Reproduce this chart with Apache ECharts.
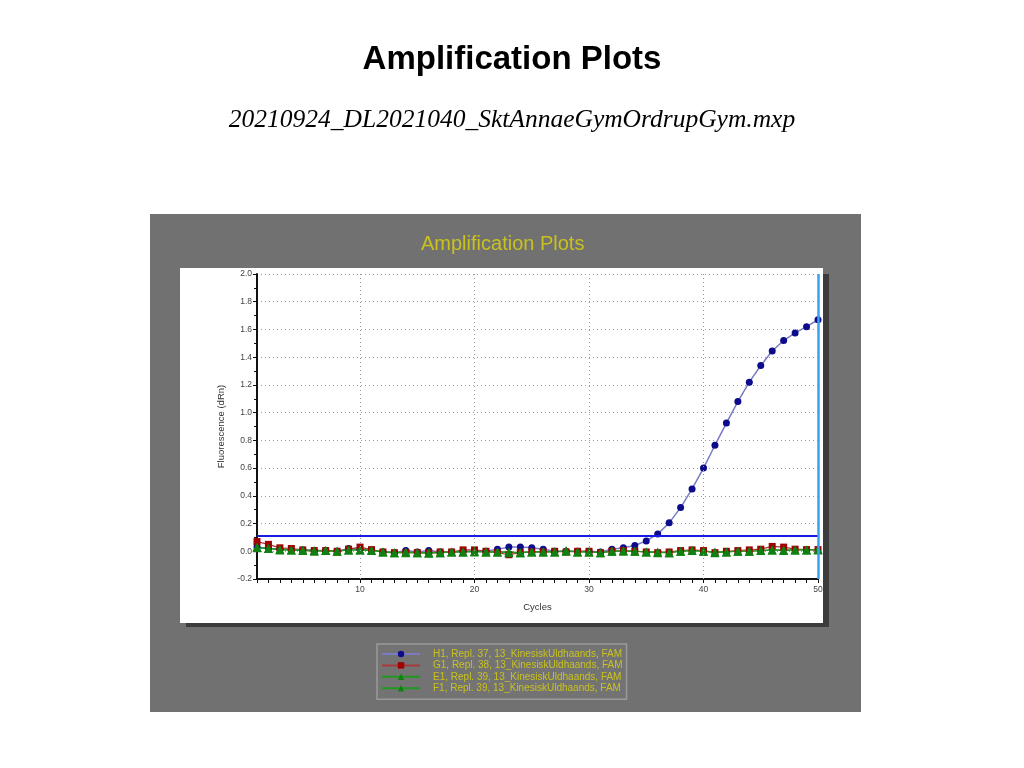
<!DOCTYPE html>
<html><head><meta charset="utf-8">
<script src="https://cdn.jsdelivr.net/npm/echarts@6/dist/echarts.min.js"></script>
<style>html,body{margin:0;padding:0;background:#fff}#c{width:1024px;height:768px}</style>
</head><body><div id="c"></div>
<script>
var cycles = [];
for (var i = 1; i <= 50; i++) cycles.push(i);
var h1 = [0.03,0.02,0.015,0.01,0.01,0.005,0.005,0.0,0.02,0.015,0.01,-0.005,-0.01,0.005,-0.005,0.005,-0.005,-0.005,0.0,0.0,0.0,0.015,0.03,0.03,0.025,0.015,0.0,0.0,0.0,0.0,-0.005,0.015,0.025,0.042,0.075,0.125,0.205,0.315,0.45,0.60,0.765,0.925,1.08,1.22,1.34,1.445,1.52,1.575,1.62,1.67];
var g1 = [0.07,0.05,0.025,0.02,0.01,0.005,0.005,0.0,0.015,0.03,0.012,-0.005,-0.01,-0.01,-0.01,-0.01,-0.005,-0.005,0.01,0.01,0.0,-0.01,-0.025,-0.01,-0.005,-0.005,0.0,-0.005,0.0,0.0,-0.01,0.0,0.005,0.0,-0.005,-0.01,-0.005,0.005,0.01,0.005,-0.01,0.0,0.005,0.01,0.015,0.035,0.03,0.015,0.012,0.012];
var e1 = [0.03,0.02,0.015,0.01,0.01,0.005,0.005,0.0,0.01,0.01,0.01,-0.005,-0.01,-0.01,-0.01,-0.015,-0.01,-0.005,-0.005,-0.005,-0.005,-0.005,-0.01,-0.01,-0.005,-0.005,-0.005,0.005,-0.005,-0.005,-0.01,0.0,0.0,0.0,-0.005,-0.01,-0.01,0.0,0.005,0.0,-0.01,-0.005,0.0,0.0,0.005,0.01,0.005,0.01,0.01,0.012];
var f1 = [0.025,0.02,0.01,0.01,0.005,0.0,0.005,0.0,0.01,0.01,0.005,-0.005,-0.01,-0.005,-0.01,-0.01,-0.01,-0.005,-0.005,0.0,-0.005,-0.005,-0.005,-0.01,-0.005,-0.005,-0.005,0.0,-0.005,-0.005,-0.01,0.0,0.005,0.0,-0.005,-0.005,-0.01,0.0,0.005,0.0,-0.005,-0.005,0.0,0.0,0.005,0.01,0.01,0.01,0.01,0.01];
var seriesNames = ['H1, Repl. 37, 13_KinesiskUldhaands, FAM','G1, Repl. 38, 13_KinesiskUldhaands, FAM','E1, Repl. 39, 13_KinesiskUldhaands, FAM','F1, Repl. 39, 13_KinesiskUldhaands, FAM'];
var xGridLines = [10, 20, 30, 40];
var threshold = 0.108;
var cursorCycle = 50;

function pairs(arr){ return arr.map(function(v,i){ return [cycles[i], v]; }); }

var chart = echarts.init(document.getElementById('c'));
var yellow = '#c9c21e';
var dotted = {color:'#9a9a9a', type:[1,3], width:1};
chart.setOption({
  animation: false,
  backgroundColor: '#ffffff',
  graphic: [
    {type:'rect', z:-10, shape:{x:150,y:214,width:711,height:498}, style:{fill:'#717171'}},
    {type:'rect', z:-9, shape:{x:186,y:274,width:643,height:353}, style:{fill:'#3c3c3c'}},
    {type:'rect', z:-8, shape:{x:180,y:268,width:643,height:355}, style:{fill:'#ffffff'}}
  ],
  title: [
    {text:'Amplification Plots', left:'center', top:38, textStyle:{fontFamily:'Liberation Sans, Arial', fontWeight:'bold', fontSize:33, color:'#000'}},
    {text:'20210924_DL2021040_SktAnnaeGymOrdrupGym.mxp', left:'center', top:102, textStyle:{fontFamily:'Liberation Serif, Times New Roman', fontStyle:'italic', fontWeight:'normal', fontSize:25.5, color:'#000'}},
    {text:'Amplification Plots', left:416, top:229, textStyle:{fontFamily:'Liberation Sans, Arial', fontWeight:'normal', fontSize:20, color:yellow}}
  ],
  legend: {
    orient:'vertical', left:377, top:644, width:250,
    backgroundColor:'#737373', borderColor:'#9a9a9a', borderWidth:1.5,
    padding:[5,4,6,4], itemWidth:38, itemHeight:8, itemGap:1.4,
    textStyle:{color:yellow, fontSize:10, fontFamily:'Liberation Sans, Arial', padding:[0,0,0,8]},
    data: seriesNames
  },
  grid: {left:257, right:206, top:274, bottom:189},
  xAxis: {
    type:'value', min:1, max:50, interval:1,
    name:'Cycles', nameLocation:'middle', nameGap:23,
    nameTextStyle:{fontSize:9.5, color:'#333', fontFamily:'Liberation Sans, Arial'},
    axisLine:{onZero:false, lineStyle:{color:'#111', width:2}},
    axisTick:{show:true, length:4, lineStyle:{color:'#111'}},
    axisLabel:{fontSize:8.5, color:'#444', margin:6, fontFamily:'Liberation Sans, Arial',
      formatter:function(v){ return v % 10 === 0 ? String(v) : ''; }},
    splitLine:{show:false}
  },
  yAxis: {
    type:'value', min:-0.2, max:2.0, interval:0.2,
    name:'Fluorescence (dRn)', nameLocation:'middle', nameGap:28,
    nameTextStyle:{fontSize:9.5, color:'#333', fontFamily:'Liberation Sans, Arial'},
    axisLine:{show:true, lineStyle:{color:'#111', width:2}},
    axisTick:{show:true, length:4, lineStyle:{color:'#111'}},
    minorTick:{show:true, splitNumber:2, length:3, lineStyle:{color:'#111'}},
    axisLabel:{fontSize:8.5, color:'#444', margin:5, fontFamily:'Liberation Sans, Arial',
      formatter:function(v){ return v.toFixed(1); }},
    splitLine:{show:true, lineStyle:dotted}
  },
  series: [
    {name:seriesNames[0], type:'line', data:pairs(h1), symbol:'circle', symbolSize:7,
      lineStyle:{color:'#7b7bc4', width:1.5}, itemStyle:{color:'#0b0b8c'},
      markLine:{silent:true, symbol:'none', label:{show:false}, animation:false,
        data:[].concat(
          xGridLines.map(function(v){ return {xAxis:v, lineStyle:dotted}; }),
          [{yAxis:threshold, lineStyle:{color:'#1a1ae6', type:'solid', width:2}}],
          [{xAxis:cursorCycle, lineStyle:{color:'#3aa0f0', type:'solid', width:2.5}}]
        )}},
    {name:seriesNames[1], type:'line', data:pairs(g1), symbol:'rect', symbolSize:7,
      lineStyle:{color:'#a83a3a', width:1.2}, itemStyle:{color:'#a00000'}},
    {name:seriesNames[2], type:'line', data:pairs(e1), symbol:'triangle', symbolSize:9,
      lineStyle:{color:'#1f9a1f', width:1.2}, itemStyle:{color:'#108010'}},
    {name:seriesNames[3], type:'line', data:pairs(f1), symbol:'triangle', symbolSize:9,
      lineStyle:{color:'#1f9a1f', width:1.2}, itemStyle:{color:'#108010'}}
  ]
});
</script></body></html>
